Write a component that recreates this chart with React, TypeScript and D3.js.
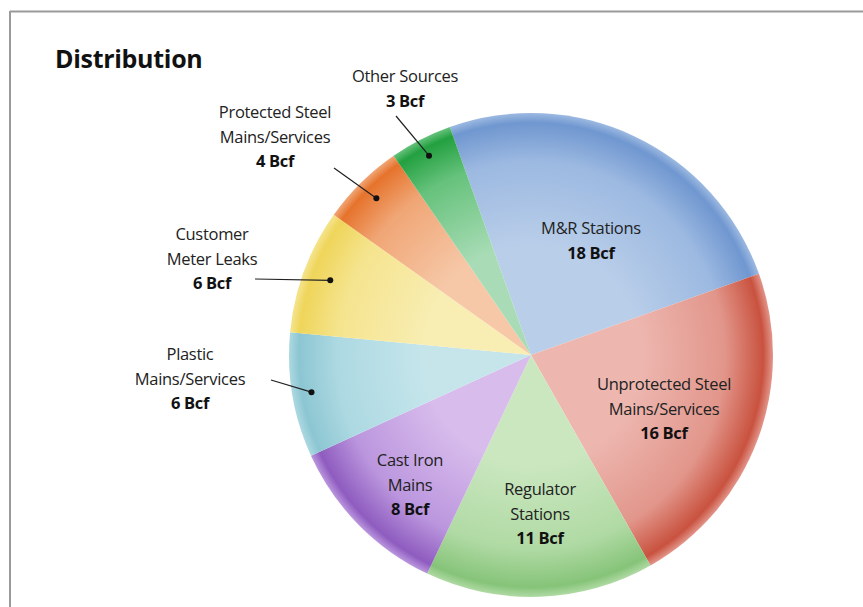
import React from "react";
import * as d3 from "d3";

const categories = [
  "M&R Stations",
  "Unprotected Steel Mains/Services",
  "Regulator Stations",
  "Cast Iron Mains",
  "Plastic Mains/Services",
  "Customer Meter Leaks",
  "Protected Steel Mains/Services",
  "Other Sources",
];
const values = [18, 16, 11, 8, 6, 6, 4, 3];
const labelLines = [
  ["M&R Stations"],
  ["Unprotected Steel", "Mains/Services"],
  ["Regulator", "Stations"],
  ["Cast Iron", "Mains"],
  ["Plastic", "Mains/Services"],
  ["Customer", "Meter Leaks"],
  ["Protected Steel", "Mains/Services"],
  ["Other Sources"],
];
const unit = "Bcf";
const title = "Distribution";

// styling / layout (not data)
const edgeColors = ["#7097d0", "#c9523f", "#86c479", "#8e5cbf", "#8cc6d2", "#efd55a", "#e6732c", "#23a040"];
const midColors = ["#9cb9e1", "#e2968b", "#b0da a4".replace(" ", ""), "#bb96de", "#add9e2", "#f5e48e", "#f0a676", "#66c27c"];
const centerColors = ["#b9cee9", "#edb7b0", "#cbe7c0", "#d8bcec", "#c5e5eb", "#f8edb2", "#f6c8a8", "#a9dcb6"];
// label anchor: [x, y of first line, hasLeader]
const labelLayout: [number, number, boolean][] = [
  [591, 234, false],
  [664, 390, false],
  [540, 495, false],
  [410, 466, false],
  [190, 360, true],
  [212, 240, true],
  [275, 118, true],
  [405, 82, true],
];
// leader start points (near text) for outside labels
const leaderStarts: Record<number, [number, number]> = {
  4: [271, 380],
  5: [255, 279],
  6: [334, 168],
  7: [396, 116],
};
const leaderRadius = [0, 0, 0, 0, 0.92, 0.885, 0.91, 0.925];

const W = 863;
const H = 607;
const cx = 531;
const cy = 355;
const R = 242;
const startAngle = (-19.6 * Math.PI) / 180;

export default function App() {
  const pie = d3
    .pie<number>()
    .sort(null)
    .startAngle(startAngle)
    .endAngle(startAngle + 2 * Math.PI)
    .value((d) => d);
  const arcs = pie(values);
  const arc = d3.arc<d3.PieArcDatum<number>>().innerRadius(0).outerRadius(R);
  const font = "'Open Sans', 'Noto Sans', sans-serif";
  const lh = 24.5;

  return (
    <div style={{ position: "fixed", left: 0, top: 0 }}>
      <svg width={W} height={H} viewBox={`0 0 ${W} ${H}`} style={{ display: "block", background: "#fff" }}>
        <defs>
          {arcs.map((a, i) => (
            <radialGradient key={i} id={`g${i}`} gradientUnits="userSpaceOnUse" cx={0} cy={0} r={R}>
              <stop offset="0" stopColor={centerColors[i]} />
              <stop offset="0.45" stopColor={centerColors[i]} />
              <stop offset="0.8" stopColor={midColors[i]} />
              <stop offset="0.96" stopColor={edgeColors[i]} />
              <stop offset="1" stopColor={midColors[i]} />
            </radialGradient>
          ))}
        </defs>
        <line x1={10} y1={11.5} x2={W} y2={11.5} stroke="#9a9a9a" strokeWidth={2} />
        <line x1={10} y1={11} x2={10} y2={H} stroke="#9a9a9a" strokeWidth={2} />
        <text x={55} y={68} fontFamily={font} fontWeight={700} fontSize={25} fill="#111" letterSpacing={-0.3}>
          {title}
        </text>
        <g transform={`translate(${cx},${cy})`}>
          {arcs.map((a, i) => (
            <path key={i} d={arc(a) || ""} fill={`url(#g${i})`} />
          ))}
        </g>
        {arcs.map((a, i) => {
          if (!labelLayout[i][2]) return null;
          const mid = (a.startAngle + a.endAngle) / 2;
          const r = R * leaderRadius[i];
          const px = cx + r * Math.sin(mid);
          const py = cy - r * Math.cos(mid);
          const [sx, sy] = leaderStarts[i];
          return (
            <g key={`l${i}`}>
              <line x1={sx} y1={sy} x2={px} y2={py} stroke="#222" strokeWidth={1.2} />
              <circle cx={px} cy={py} r={3} fill="#111" />
            </g>
          );
        })}
        {arcs.map((a, i) => {
          const [x, y] = labelLayout[i];
          const lines = labelLines[i];
          return (
            <text key={`t${i}`} x={x} y={y} textAnchor="middle" fontFamily={font} fontSize={16.5} fill="#222" letterSpacing={-0.3}>
              {lines.map((l, j) => (
                <tspan key={j} x={x} y={y + j * lh}>
                  {l}
                </tspan>
              ))}
              <tspan x={x} y={y + lines.length * lh} fontWeight={700} fill="#111">
                {`${values[i]} ${unit}`}
              </tspan>
            </text>
          );
        })}
      </svg>
    </div>
  );
}
